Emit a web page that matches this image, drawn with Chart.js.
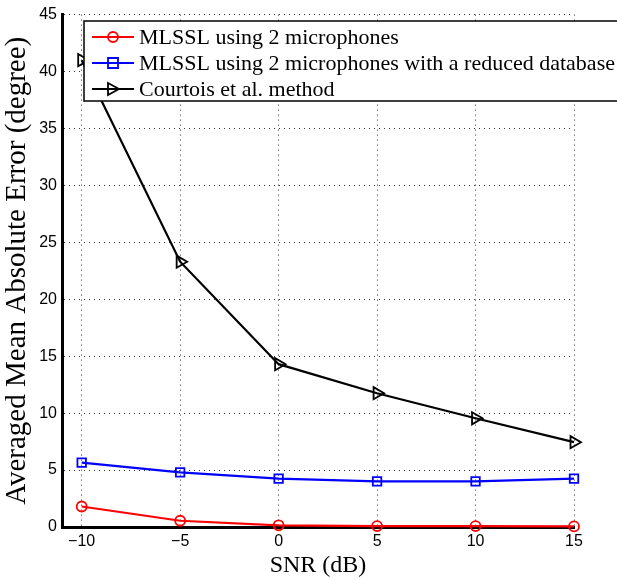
<!DOCTYPE html>
<html>
<head>
<meta charset="utf-8">
<script src="https://cdn.jsdelivr.net/npm/chart.js@4"></script>
<style>
  html, body { margin: 0; padding: 0; background: #fff; }
  #wrap { width: 617px; height: 580px; }
</style>
</head>
<body>
<div id="wrap"><canvas id="canvas" width="617" height="580"></canvas></div>
<script>
var snr = [-10, -5, 0, 5, 10, 15];
var mlssl = [1.8, 0.55, 0.15, 0.08, 0.08, 0.05];
var mlsslReduced = [5.65, 4.8, 4.25, 4.0, 4.0, 4.25];
var courtois = [41.0, 23.3, 14.3, 11.75, 9.55, 7.45];
var xTicks = [-10, -5, 0, 5, 10, 15];
var yTicks = [0, 5, 10, 15, 20, 25, 30, 35, 40, 45];

function pts(ys) {
  return snr.map(function(x, i) { return { x: x, y: ys[i] }; });
}

var serif = '"Liberation Serif", "DejaVu Serif", serif';
var sans = '"Liberation Sans", Arial, sans-serif';

// legend box drawn inside the plot, like the matlab one
var boxLegend = {
  id: 'boxLegend',
  afterDraw: function(chart) {
    var c = chart.ctx;
    var x0 = 84, y0 = 21, w = 560, h = 80;
    c.save();
    c.fillStyle = '#fff';
    c.fillRect(x0, y0, w, h);
    c.strokeStyle = '#000';
    c.lineWidth = 1.5;
    c.strokeRect(x0, y0, w, h);
    c.font = '22px ' + serif;
    c.textBaseline = 'middle';
    chart.data.datasets.forEach(function(ds, i) {
      var y = 37 + i * 26;
      c.strokeStyle = ds.borderColor;
      c.lineWidth = 2.2;
      c.beginPath();
      c.moveTo(92, y);
      c.lineTo(134, y);
      c.stroke();
      c.lineWidth = 1.8;
      c.beginPath();
      if (ds.pointStyle === 'circle') {
        c.arc(113, y, 5, 0, Math.PI * 2);
      } else if (ds.pointStyle === 'rect') {
        c.rect(108, y - 5, 10, 10);
      } else {
        c.moveTo(108, y - 6);
        c.lineTo(119, y);
        c.lineTo(108, y + 6);
        c.closePath();
      }
      c.stroke();
      c.fillStyle = '#000';
      c.fillText(ds.label, 139, y + 1);
    });
    c.restore();
  }
};

var ctx = document.getElementById('canvas').getContext('2d');
var chart = new Chart(ctx, {
  type: 'line',
  data: {
    datasets: [{
      label: 'MLSSL using 2 microphones',
      data: pts(mlssl),
      borderColor: '#ff0000',
      pointStyle: 'circle',
      pointRadius: 5
    }, {
      label: 'MLSSL using 2 microphones with a reduced database',
      data: pts(mlsslReduced),
      borderColor: '#0000ff',
      pointStyle: 'rect',
      pointRadius: 6
    }, {
      label: 'Courtois et al. method',
      data: pts(courtois),
      borderColor: '#000000',
      pointStyle: 'triangle',
      pointRotation: 90,
      pointRadius: 7
    }]
  },
  options: {
    responsive: false,
    animation: false,
    clip: false,
    datasets: {
      line: {
        borderWidth: 2.2,
        tension: 0,
        pointBackgroundColor: 'rgba(0,0,0,0)',
        pointBorderWidth: 1.8
      }
    },
    layout: { padding: { left: 0, right: 43, top: 14, bottom: 0 } },
    plugins: {
      legend: { display: false },
      tooltip: { enabled: false }
    },
    scales: {
      x: {
        type: 'linear',
        min: -11,
        max: 15,
        afterBuildTicks: function(s) { s.ticks = xTicks.map(function(v) { return { value: v }; }); },
        afterFit: function(s) { s.height = 53; },
        border: { display: true, color: '#000', width: 3, dash: [1, 4] },
        grid: { color: '#333', lineWidth: 1, tickLength: 0 },
        ticks: {
          color: '#000',
          padding: 5,
          font: { family: sans, size: 16 },
          callback: function(v) { return String(v).replace('-', '\u2212'); }
        },
        title: {
          display: true,
          text: 'SNR (dB)',
          color: '#000',
          font: { family: serif, size: 24 },
          padding: { top: 0, bottom: 0 }
        }
      },
      y: {
        min: 0,
        max: 45,
        afterBuildTicks: function(s) { s.ticks = yTicks.map(function(v) { return { value: v }; }); },
        afterFit: function(s) { s.width = 62; },
        border: { display: true, color: '#000', width: 3, dash: [1, 4] },
        grid: { color: '#333', lineWidth: 1, tickLength: 0 },
        ticks: {
          color: '#000',
          padding: 5,
          font: { family: sans, size: 16 }
        },
        title: {
          display: true,
          text: 'Averaged Mean Absolute Error (degree)',
          color: '#000',
          font: { family: serif, size: 29 },
          padding: { top: 0, bottom: 0 }
        }
      }
    }
  },
  plugins: [boxLegend]
});
</script>
</body>
</html>
